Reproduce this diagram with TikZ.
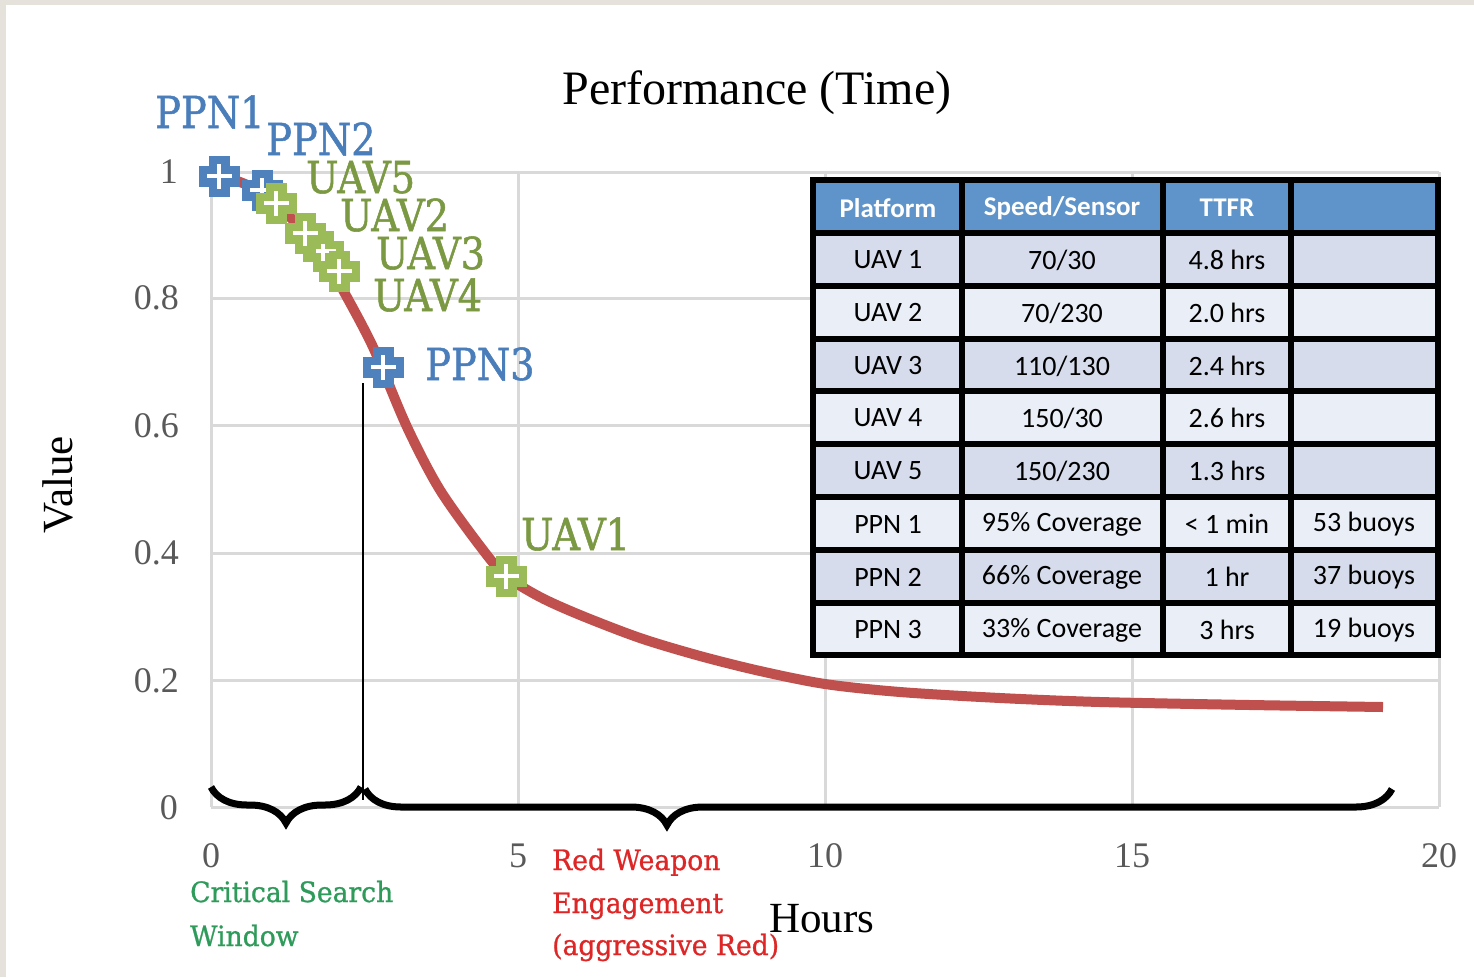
\documentclass[tikz,border=0pt]{standalone}
\usepackage{fontspec}
\setmainfont{Liberation Serif}
\newfontfamily\tablefont{Carlito}
\newfontfamily\labelfont[FakeStretch=0.87, FakeBold=1.2]{DejaVu Serif}
\newfontfamily\notefont[FakeStretch=0.95, FakeBold=0.9]{DejaVu Serif}
\usetikzlibrary{decorations.pathreplacing}

\definecolor{framebg}{RGB}{229,226,220}
\definecolor{gridgray}{RGB}{217,217,217}
\definecolor{tickgray}{RGB}{89,89,89}
\definecolor{curvered}{RGB}{192,80,77}
\definecolor{ppnblue}{RGB}{79,129,189}
\definecolor{uavgreen}{RGB}{155,187,89}
\definecolor{ppntext}{RGB}{74,126,187}
\definecolor{uavtext}{RGB}{122,153,66}
\definecolor{searchgreen}{RGB}{46,155,90}
\definecolor{weaponred}{RGB}{222,38,38}
\definecolor{headblue}{RGB}{94,148,201}
\definecolor{rowdark}{RGB}{214,220,235}
\definecolor{rowlight}{RGB}{234,238,246}

\tikzset{
  gridline/.style={draw=gridgray, line width=3pt},
  tick/.style={text=tickgray, font=\fontsize{36}{40}\selectfont, inner sep=0pt},
  axistitle/.style={text=black, inner sep=0pt},
  curve/.style={draw=curvered, line width=10pt},
  ppnlabel/.style={text=ppntext, anchor=base west, inner sep=0pt, font=\labelfont\fontsize{44}{48}\selectfont},
  uavlabel/.style={text=uavtext, anchor=base west, inner sep=0pt, font=\labelfont\fontsize{44}{48}\selectfont},
  bracestyle/.style={draw=black, line width=7pt, decorate},
  noteline/.style={anchor=base west, inner sep=0pt, font=\notefont\fontsize{28}{32}\selectfont},
  cellborder/.style={draw=black, line width=6pt},
  headcell/.style={text=white, inner sep=0pt, font=\tablefont\bfseries\fontsize{27}{30}\selectfont},
  bodycell/.style={text=black, inner sep=0pt, font=\tablefont\fontsize{28}{30}\selectfont},
  pics/plusmark/.style={code={
    \fill[#1] (-20.5,-10.5) rectangle (20.5,10.5);
    \fill[#1] (-10.5,-20.5) rectangle (10.5,20.5);
    \fill[white] (-12.5,-2.2) rectangle (12.5,2.2);
    \fill[white] (-2.2,-12.5) rectangle (2.2,12.5);
  }}
}

\begin{document}
\begin{tikzpicture}[x=1pt,y=-1pt]
\useasboundingbox (0,0) rectangle (1474,977);
% page frame
\fill[framebg] (0,0) rectangle (1474,977);
\fill[white] (6,5) rectangle (1474,977);

% chart grid
\foreach \gx in {211,518,825,1132,1439}
  \draw[gridline] (\gx,172) -- (\gx,807);
\foreach \gy in {172,298,425,553,680,807}
  \draw[gridline] (211,\gy) -- (1439,\gy);

% axis numbers
\node[tick, anchor=east] (ytick1)  at (178,172) {1};
\node[tick, anchor=east] (ytick08) at (179,298) {0.8};
\node[tick, anchor=east] (ytick06) at (179,426) {0.6};
\node[tick, anchor=east] (ytick04) at (179,553) {0.4};
\node[tick, anchor=east] (ytick02) at (179,681) {0.2};
\node[tick, anchor=east] (ytick0)  at (178,808) {0};
\node[tick] (xtick0)  at (211,856) {0};
\node[tick] (xtick5)  at (518,856) {5};
\node[tick] (xtick10) at (825,856) {10};
\node[tick] (xtick15) at (1132,856) {15};
\node[tick] (xtick20) at (1439,856) {20};

% titles
\node[axistitle, font=\fontsize{48}{52}\selectfont] (title) at (757,93) {Performance (Time)};
\node[axistitle, font=\fontsize{43}{46}\selectfont, rotate=90] (ytitle) at (58,485) {Value};
\node[axistitle, font=\fontsize{43}{46}\selectfont, anchor=base west] (xtitle) at (769,932) {Hours};

% value curve
\draw[curve] plot[smooth, tension=0.5] coordinates {
  (219,176) (240,182) (262,192) (276,203) (291,218) (305,233) (322,253)
  (343,290) (373,347) (407,427) (440,490) (483,550) (506,576) (540,597)
  (580,615) (640,638) (700,656) (760,671) (825,684) (900,692) (1000,698)
  (1100,702) (1250,705) (1383,707)};

% platform markers
\pic (mk-ppn1) at (219,176) {plusmark=ppnblue};
\pic (mk-ppn2) at (262,190) {plusmark=ppnblue};
\pic (mk-uav5) at (276,203) {plusmark=uavgreen};
\pic (mk-uav3) at (323,251) {plusmark=uavgreen};
\pic (mk-uav2) at (305,233) {plusmark=uavgreen};
\pic (mk-uav4) at (339,271) {plusmark=uavgreen};
\pic (mk-ppn3) at (383,367) {plusmark=ppnblue};
\pic (mk-uav1) at (506,576) {plusmark=uavgreen};

% platform labels
\node[ppnlabel] (lb-ppn1) at (155,128) {PPN1};
\node[ppnlabel] (lb-ppn2) at (266,155) {PPN2};
\node[uavlabel] (lb-uav5) at (306,193) {UAV5};
\node[uavlabel] (lb-uav2) at (340,231) {UAV2};
\node[uavlabel] (lb-uav3) at (376,269) {UAV3};
\node[uavlabel] (lb-uav4) at (373,311) {UAV4};
\node[ppnlabel] (lb-ppn3) at (425,380) {PPN3};
\node[uavlabel] (lb-uav1) at (521,550) {UAV1};

% boundary between the two phases
\coordinate (cutTop) at (363,383);
\coordinate (cutBot) at (363,800);
\draw[line width=2.5pt] (cutTop) -- (cutBot);

% phase braces
\coordinate (brA) at (211,787);
\coordinate (brB) at (361,787);
\coordinate (brC) at (365,789);
\coordinate (brD) at (1392,789);
\draw[bracestyle, decoration={brace, mirror, amplitude=36pt}] (brA) -- (brB);
\draw[bracestyle, decoration={brace, mirror, amplitude=36pt, aspect=0.294}] (brC) -- (brD);

% phase notes
\node[noteline, text=searchgreen] (cs1) at (190,902) {Critical Search};
\node[noteline, text=searchgreen] (cs2) at (190,946) {Window};
\node[noteline, text=weaponred] (rw1) at (552,870) {Red Weapon};
\node[noteline, text=weaponred] (rw2) at (552,913) {Engagement};
\node[noteline, text=weaponred] (rw3) at (552,955) {(aggressive Red)};

% platform table: cell fills
\fill[headblue] (813,180) rectangle (1438,233);
\foreach \ya/\yb/\shade in {233/286/rowdark, 286/339/rowlight, 339/391/rowdark,
    391/444/rowlight, 444/497/rowdark, 497/550/rowlight, 550/603/rowdark, 603/655/rowlight}
  \fill[\shade] (813,\ya) rectangle (1438,\yb);
% table rules
\foreach \tx in {813,962,1163,1291,1438}
  \draw[cellborder] (\tx,177) -- (\tx,658);
\foreach \ty in {180,233,286,339,391,444,497,550,603,655}
  \draw[cellborder] (810,\ty) -- (1441,\ty);

% table header
\node[headcell] (h-1) at (888,208) {Platform};
\node[headcell] (h-2) at (1062,208) {Speed/Sensor};
\node[headcell] (h-3) at (1227,208) {TTFR};

% table body
\foreach \r/\yc/\pa/\pb/\pc/\pd in {
    1/260/UAV 1/70\slash 30/4.8 hrs/{},
    2/313/UAV 2/70\slash 230/2.0 hrs/{},
    3/366/UAV 3/110\slash 130/2.4 hrs/{},
    4/418/UAV 4/150\slash 30/2.6 hrs/{},
    5/471/UAV 5/150\slash 230/1.3 hrs/{},
    6/524/PPN 1/95\% Coverage/< 1 min/53 buoys,
    7/577/PPN 2/66\% Coverage/1 hr/37 buoys,
    8/630/PPN 3/33\% Coverage/3 hrs/19 buoys} {
  \node[bodycell] (c-\r-1) at (888,\yc) {\pa};
  \node[bodycell] (c-\r-2) at (1062,\yc) {\pb};
  \node[bodycell] (c-\r-3) at (1227,\yc) {\pc};
  \node[bodycell] (c-\r-4) at (1364,\yc) {\pd};
}
\end{tikzpicture}
\end{document}
